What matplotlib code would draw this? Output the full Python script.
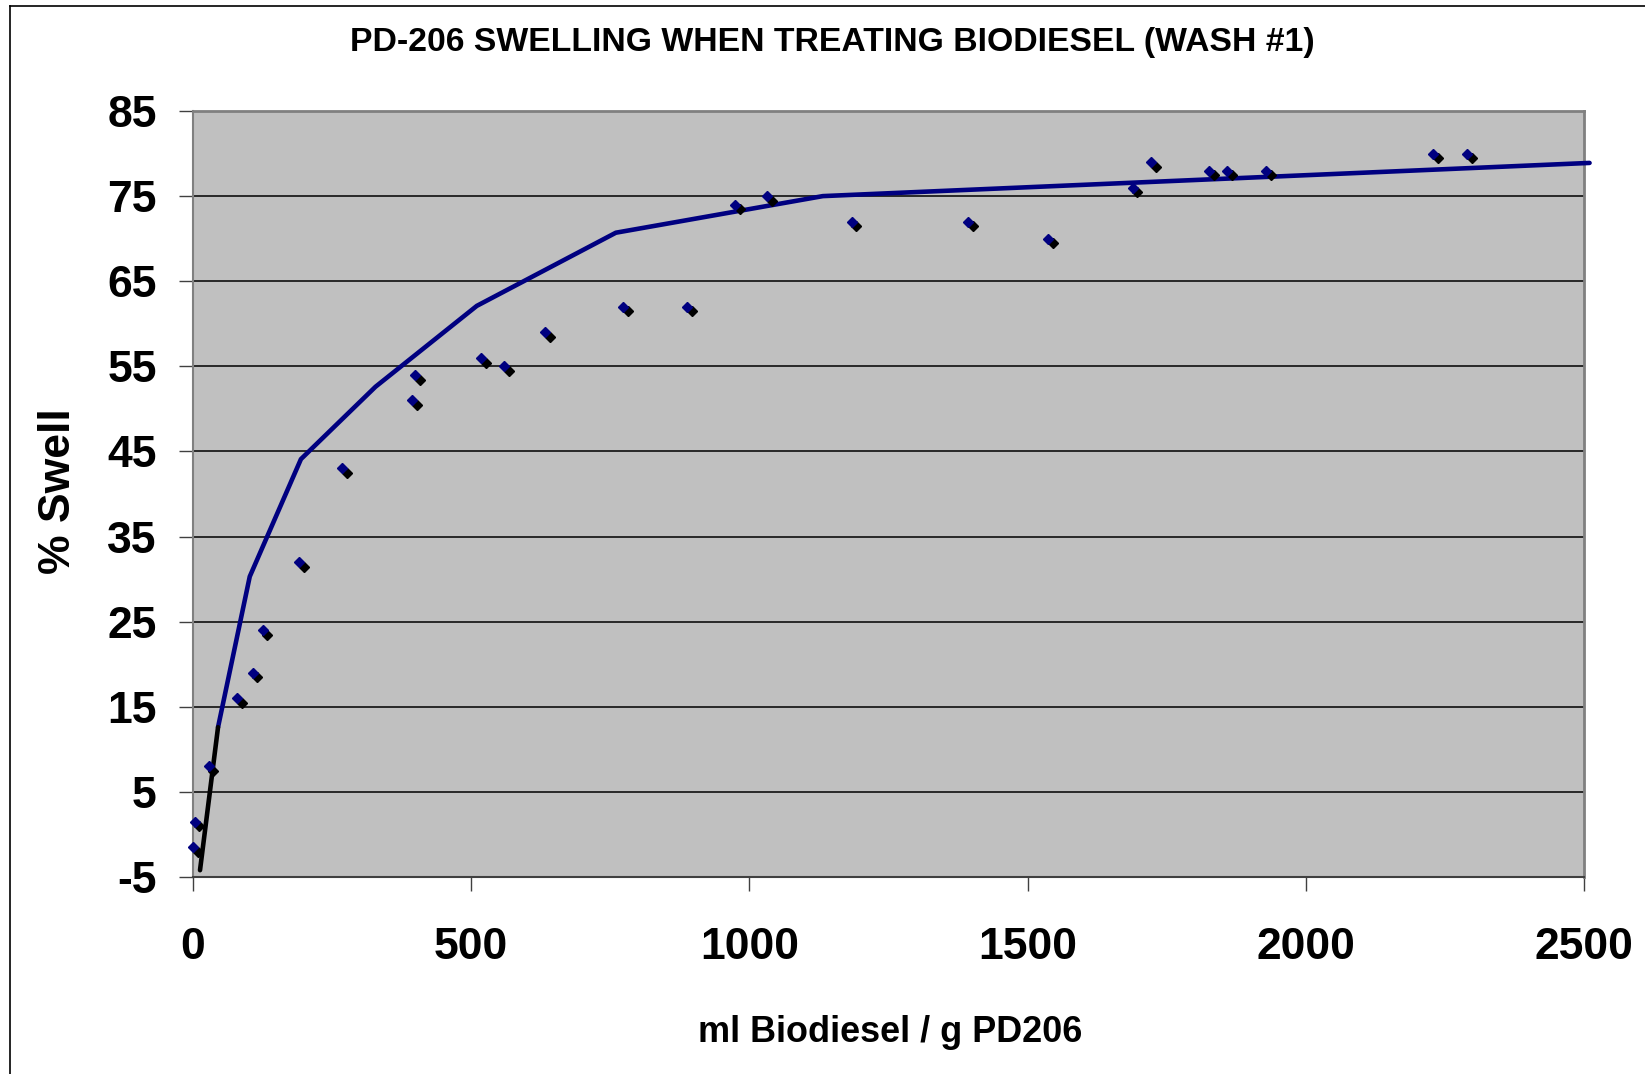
import matplotlib
matplotlib.use("Agg")
import matplotlib.pyplot as plt
from matplotlib import transforms
from matplotlib.lines import Line2D

# ---- data ----
swell_x = [0, 3, 28, 79, 107, 125, 191, 268, 394, 399, 518, 559, 633, 773, 888,
           974, 1032, 1184, 1393, 1537, 1689, 1722, 1826, 1858, 1929, 2229, 2290]
swell_y = [-1.5, 1.5, 8, 16, 19, 24, 32, 43, 51, 54, 56, 55, 59, 62, 62,
           74, 75, 72, 72, 70, 76, 79, 78, 78, 78, 80, 80]

fit_x = [45, 102, 194, 328, 510, 760, 1132, 2510]
fit_y = [12.6, 30.3, 44.1, 52.6, 62.1, 70.7, 75.0, 78.9]

early_x = [12.6, 45]
early_y = [-4.2, 12.6]

y_ticks = [-5, 5, 15, 25, 35, 45, 55, 65, 75, 85]
x_ticks = [0, 500, 1000, 1500, 2000, 2500]

title = "PD-206 SWELLING WHEN TREATING BIODIESEL (WASH #1)"
xlabel = "ml Biodiesel / g PD206"
ylabel = "% Swell"

plt.rcParams['font.family'] = ['Liberation Sans', 'DejaVu Sans']

W, H = 1645, 1074
fig = plt.figure(figsize=(W / 100, H / 100), dpi=100)
fig.patch.set_facecolor('white')

ax = fig.add_axes([193 / W, 1 - 877 / H, (1584 - 193) / W, (877 - 111) / H])
ax.set_facecolor('#C0C0C0')
ax.set_xlim(0, 2500)
ax.set_ylim(-5, 85)
ax.set_xticks(x_ticks)
ax.set_yticks(y_ticks)
ax.set_xticklabels([str(v) for v in x_ticks])
ax.set_yticklabels([str(v) for v in y_ticks])

ax.grid(axis='y', color='black', linewidth=1.1, zorder=1)
ax.set_axisbelow(True)

for side in ['top', 'right']:
    ax.spines[side].set_color('#808080')
    ax.spines[side].set_linewidth(2)
for side in ['left', 'bottom']:
    ax.spines[side].set_color('#404040')
    ax.spines[side].set_linewidth(1.5)
ax.spines['left'].set_color('#808080')

ax.tick_params(axis='y', direction='out', length=10, width=1, color='#404040',
               pad=16, labelsize=32)
ax.tick_params(axis='x', direction='out', length=10, width=1, color='#404040',
               pad=26, labelsize=32)
for lab in ax.get_xticklabels() + ax.get_yticklabels():
    lab.set_fontweight('bold')

# fitted curves
ax.plot(fit_x, fit_y, color='#000080', linewidth=3.3, solid_capstyle='round',
        zorder=3, clip_on=False)
ax.plot(early_x, early_y, color='black', linewidth=3.3, solid_capstyle='round',
        zorder=3)

# data points with black shadow
shadow = transforms.offset_copy(ax.transData, fig=fig, x=3.4, y=-3.4, units='points')
ax.plot(swell_x, swell_y, linestyle='none', marker='D', markersize=5,
        color='black', transform=shadow, zorder=4, clip_on=False)
ax.plot(swell_x, swell_y, linestyle='none', marker='D', markersize=5,
        color='#000080', zorder=5, clip_on=False)

fig.text(832 / W, 1 - 42 / H, title, ha='center', va='center',
         fontsize=24.3, fontweight='bold')
fig.text(890 / W, 1 - 1033 / H, xlabel, ha='center', va='center',
         fontsize=25.9, fontweight='bold')
fig.text(58 / W, 1 - 491 / H, ylabel, ha='center', va='center', rotation=90,
         fontsize=32, fontweight='bold')

# chart border (left and top visible)
fig.add_artist(Line2D([10 / W, 10 / W], [0, 1 - 6 / H], transform=fig.transFigure,
                      color='black', linewidth=1.2))
fig.add_artist(Line2D([10 / W, 1], [1 - 6 / H, 1 - 6 / H], transform=fig.transFigure,
                      color='black', linewidth=1.2))

fig.savefig('out.png', dpi=100)
